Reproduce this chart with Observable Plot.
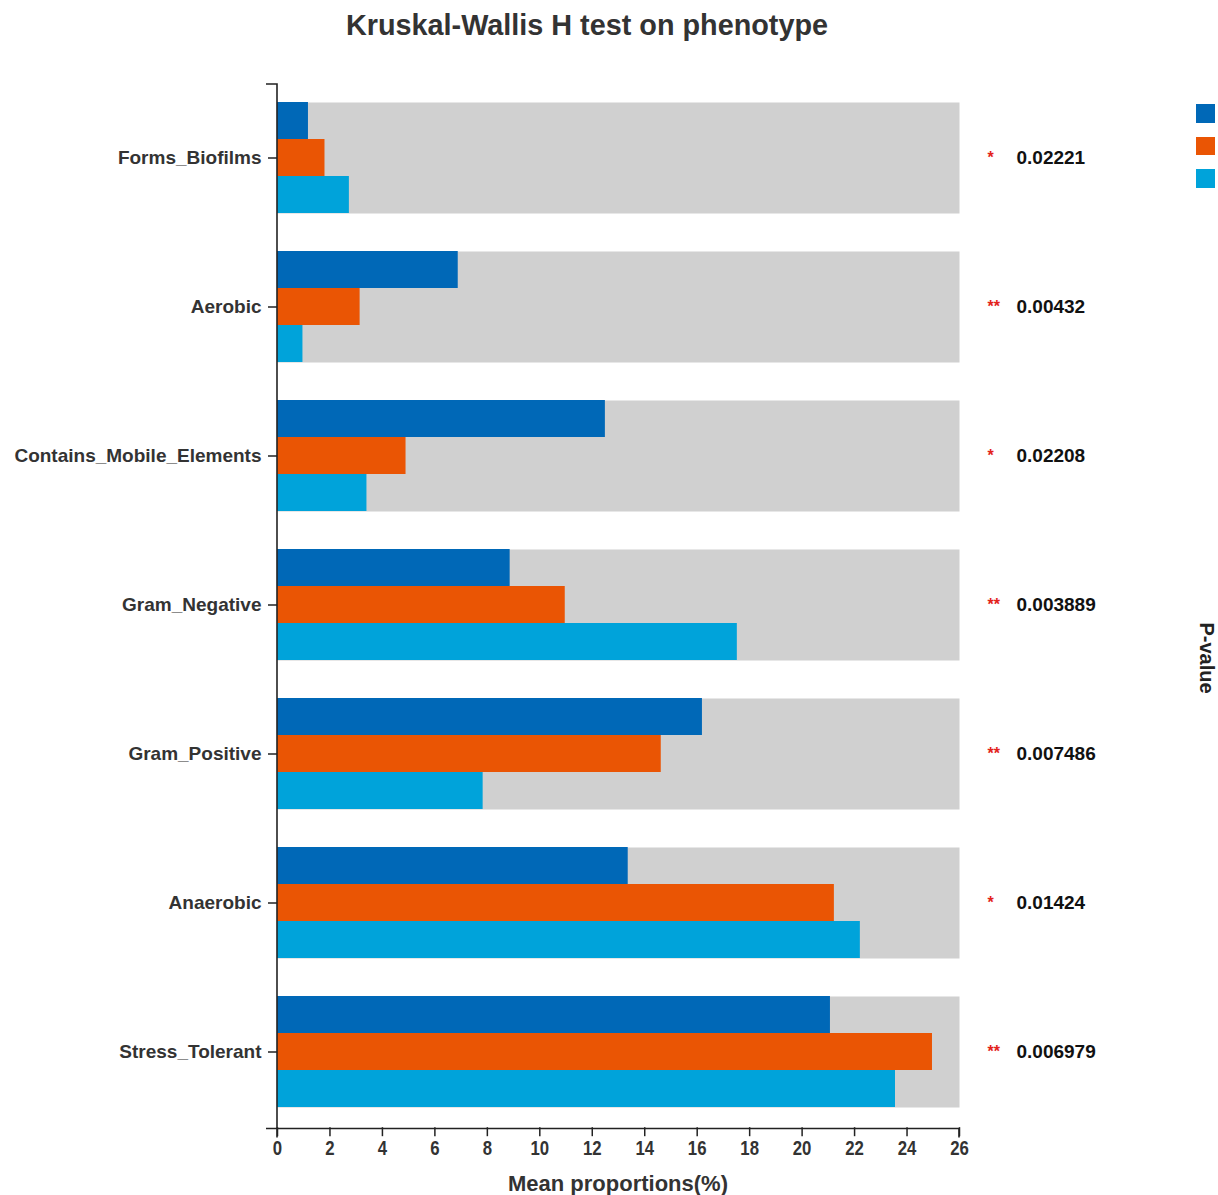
<!DOCTYPE html>
<html>
<head>
<meta charset="utf-8">
<script src="https://cdn.jsdelivr.net/npm/d3@7"></script>
<script src="https://cdn.jsdelivr.net/npm/@observablehq/plot@0.6"></script>
<style>
  html, body { margin: 0; padding: 0; background: #fff; overflow: hidden; }
  #page { position: relative; width: 1218px; height: 1195px; overflow: hidden;
          font-family: "Liberation Sans", Arial, sans-serif; }
  #title { position: absolute; left: 0; top: 11px; width: 1174px; text-align: center;
           font-size: 28.8px; line-height: 28px; font-weight: bold; color: #333; }
  #chart { position: absolute; left: 0; top: 55px; }
  #legend { position: absolute; left: 1196px; top: 104px; }
  #legend .item { height: 32.5px; display: flex; align-items: flex-start; }
  #legend .swatch { width: 18.5px; height: 18.5px; }
  #ptitle { position: absolute; left: 1206px; top: 658px; transform: translate(-50%, -50%) rotate(90deg);
            font-size: 20px; line-height: 17px; font-weight: bold; color: #222; white-space: nowrap; }
</style>
</head>
<body>
<div id="page">
  <div id="title">Kruskal-Wallis H test on phenotype</div>
  <div id="chart"></div>
  <div id="legend"></div>
  <div id="ptitle">P-value</div>
</div>
<script>
// Phenotype categories, top to bottom
const categories = ["Forms_Biofilms", "Aerobic", "Contains_Mobile_Elements",
  "Gram_Negative", "Gram_Positive", "Anaerobic", "Stress_Tolerant"];
// Sample groups (one bar each per category)
const groups = ["Group1", "Group2", "Group3"];
const groupColors = ["#0068b7", "#ea5504", "#00a3da"];
// Mean proportions (%) per group, in category order
const group1Values = [1.18, 6.89, 12.50, 8.87, 16.20, 13.37, 21.08];
const group2Values = [1.81, 3.15, 4.90, 10.97, 14.63, 21.23, 24.97];
const group3Values = [2.74, 0.97, 3.41, 17.53, 7.84, 22.22, 23.56];
// Kruskal-Wallis p-values and significance marks
const pValues = ["0.02221", "0.00432", "0.02208", "0.003889", "0.007486", "0.01424", "0.006979"];
const stars = ["*", "**", "*", "**", "**", "*", "**"];
// Axis ticks
const xTicks = [0, 2, 4, 6, 8, 10, 12, 14, 16, 18, 20, 22, 24, 26];
const xDomain = [0, 26];

const seriesValues = [group1Values, group2Values, group3Values];
const bars = categories.flatMap((category, i) =>
  groups.map((group, g) => ({category, group, value: seriesValues[g][i]})));
const stats = categories.map((category, i) => ({category, p: pValues[i], star: stars[i]}));

const W = 1218, H = 1140;
const mTop = 29, mBottom = 66.5, mLeft = 277, mRight = 259;
const fontFamily = '"Liberation Sans", Arial, sans-serif';
const bandInner = 0.252, bandOuter = 0.127, bandAlign = 0.467;
// distance from the last band's bottom to the bottom of the frame
const step = (H - mTop - mBottom) / (categories.length - bandInner + 2 * bandOuter);
const axisGap = (1 - bandAlign) * 2 * bandOuter * step;

const plot = Plot.plot({
  width: W,
  height: H,
  marginTop: mTop,
  marginBottom: mBottom,
  marginLeft: mLeft,
  marginRight: mRight,
  style: {fontFamily, background: "transparent", overflow: "visible"},
  x: {domain: xDomain},
  y: {domain: groups, paddingInner: 0, paddingOuter: 0, axis: null},
  fy: {domain: categories, paddingInner: bandInner, paddingOuter: bandOuter, align: bandAlign, axis: null},
  color: {domain: groups, range: groupColors},
  marks: [
    Plot.frame({fill: "#d0d0d0", stroke: null}),
    Plot.barX(bars, {fy: "category", y: "group", x: "value", fill: "group"}),
    Plot.text(stats, {fy: "category", text: "star", frameAnchor: "right", textAnchor: "start",
      dx: 28, fill: "#e3231b", fontSize: 16, fontWeight: "bold"}),
    Plot.text(stats, {fy: "category", text: "p", frameAnchor: "right", textAnchor: "start",
      dx: 57, fill: "#111", fontSize: 19, fontWeight: "bold"}),
    Plot.axisFy({anchor: "left", tickSize: 9, tickPadding: 7, fontSize: 19, fontWeight: "bold",
      fill: "#333", stroke: "#222", strokeWidth: 1.5, label: null}),
    Plot.axisX({anchor: "bottom", ticks: xTicks, tickSize: 9, tickPadding: 4, dy: axisGap,
      fontSize: 20, fontWeight: "bold", fill: "#333",
      stroke: "#222", strokeWidth: 1.5, label: null})
  ]
});
document.getElementById("chart").appendChild(plot);

const svg = d3.select(plot);
// Condensed tick numerals on the x axis
svg.selectAll('g[aria-label="x-axis tick label"] text')
  .attr("transform", function() { return (this.getAttribute("transform") || "") + " scale(0.84,1)"; });

// Axis lines with end ticks, following the x scale and the frame
const xs = plot.scale("x");
const [xStart, xEnd] = xs.range;
const frameTop = mTop, frameBottom = H - mBottom;
svg.append("path")
  .attr("d", `M${xStart - 11},${frameTop}H${xStart}V${frameBottom}H${xStart - 11}`)
  .attr("fill", "none").attr("stroke", "#222").attr("stroke-width", 1.6);
svg.append("path")
  .attr("d", `M${xStart},${frameBottom + 9}V${frameBottom}H${xEnd}V${frameBottom + 9}`)
  .attr("fill", "none").attr("stroke", "#222").attr("stroke-width", 1.6);
// x-axis title centred under the frame
svg.append("text")
  .attr("x", (xStart + xEnd) / 2).attr("y", H - 4)
  .attr("text-anchor", "middle")
  .attr("font-family", fontFamily).attr("font-size", 22).attr("font-weight", "bold")
  .attr("fill", "#333")
  .text("Mean proportions(%)");

// Group colour swatches
const color = plot.scale("color");
const legend = d3.select("#legend");
groups.forEach(g => {
  const item = legend.append("div").attr("class", "item");
  item.append("div").attr("class", "swatch").style("background", color.apply(g));
});
</script>
</body>
</html>
